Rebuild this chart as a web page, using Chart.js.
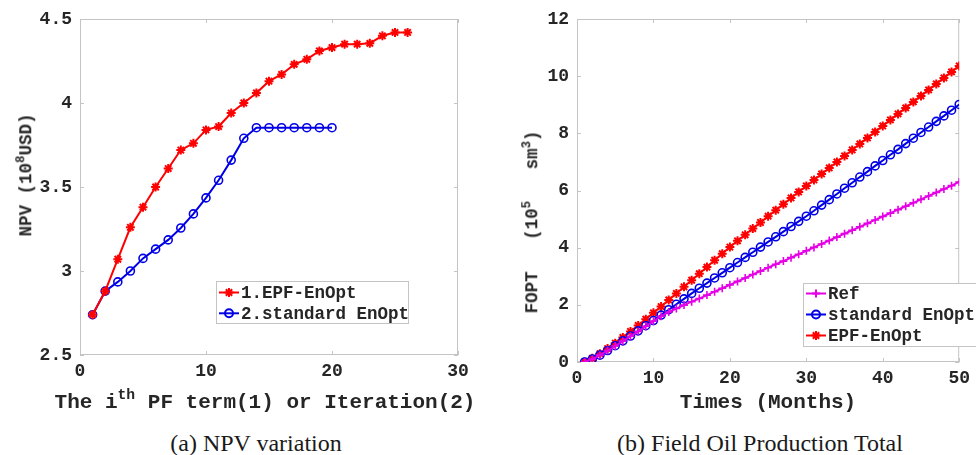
<!DOCTYPE html>
<html>
<head>
<meta charset="utf-8">
<title>NPV variation / Field Oil Production Total</title>
<script src="https://cdn.jsdelivr.net/npm/chart.js@4.4.1/dist/chart.umd.min.js"></script>
<style>
  body { margin: 0; background: #fff; }
  #wrap { position: relative; width: 976px; height: 455px; overflow: hidden; }
  canvas { position: absolute; top: 0; }
  .lbl {
    position: absolute; white-space: pre; line-height: 1;
    font-family: 'Liberation Mono', 'DejaVu Sans Mono', monospace; font-weight: bold;
    color: #262626; transform: translate(-50%, -50%);
  }
  .lbl sup { font-size: 70%; vertical-align: 0.6em; line-height: 0; }
  .rot { transform: translate(-50%, -50%) rotate(-90deg); }
  .cap {
    position: absolute; white-space: nowrap; line-height: 1;
    font-family: 'Liberation Serif', serif; font-size: 24px; color: #1a1a1a;
    transform: translate(-50%, -50%);
  }
</style>
</head>
<body>
<div id="wrap">
  <canvas id="npvChart" width="488" height="400" style="left:0"></canvas>
  <canvas id="foptChart" width="488" height="400" style="left:488px"></canvas>

  <div class="lbl rot" style="left:27px;top:175px;font-size:17.5px">NPV (10<sup>8</sup>USD)</div>
  <div class="lbl" style="left:265px;top:402px;font-size:21px">The i<sup>th</sup> PF term(1) or Iteration(2)</div>
  <div class="cap" style="left:256px;top:443px">(a) NPV variation</div>

  <div class="lbl rot" style="left:533px;top:222px;font-size:17.5px">FOPT   (10<sup>5</sup>   sm<sup>3</sup>)</div>
  <div class="lbl" style="left:768px;top:402px;font-size:21px">Times (Months)</div>
  <div class="cap" style="left:760px;top:443px">(b) Field Oil Production Total</div>
</div>

<script>
// ---- (a) NPV variation ----
const pfTerms = [1, 2, 3, 4, 5, 6, 7, 8, 9, 10, 11, 12, 13, 14, 15, 16, 17, 18, 19, 20, 21, 22, 23, 24, 25, 26];
const npvEpf = [2.74, 2.88, 3.07, 3.26, 3.38, 3.50, 3.61, 3.72, 3.76, 3.84, 3.86, 3.94, 4.00,
                4.06, 4.13, 4.17, 4.23, 4.26, 4.31, 4.33, 4.35, 4.35, 4.355, 4.40, 4.42, 4.42];
const iterations = [1, 2, 3, 4, 5, 6, 7, 8, 9, 10, 11, 12, 13, 14, 15, 16, 17, 18, 19, 20];
const npvStd = [2.74, 2.88, 2.935, 3.00, 3.075, 3.13, 3.185, 3.256, 3.34, 3.435,
                3.54, 3.66, 3.79, 3.853, 3.853, 3.853, 3.853, 3.853, 3.853, 3.853];
const npvXTicks = [0, 10, 20, 30];
const npvYTicks = [2.5, 3, 3.5, 4, 4.5];

// ---- (b) Field Oil Production Total ----
const months = [1, 2, 3, 4, 5, 6, 7, 8, 9, 10, 11, 12, 13, 14, 15, 16, 17, 18, 19, 20, 21, 22, 23, 24, 25,
                26, 27, 28, 29, 30, 31, 32, 33, 34, 35, 36, 37, 38, 39, 40, 41, 42, 43, 44, 45, 46, 47, 48, 49, 50];
const foptRef = [0.00, 0.10, 0.24, 0.40, 0.56, 0.73, 0.90, 1.07, 1.25, 1.43,
                 1.60, 1.75, 1.87, 1.99, 2.11, 2.22, 2.34, 2.46, 2.58, 2.70,
                 2.82, 2.94, 3.06, 3.18, 3.30, 3.42, 3.53, 3.65, 3.77, 3.89,
                 4.01, 4.13, 4.25, 4.37, 4.49, 4.61, 4.73, 4.85, 4.97, 5.09,
                 5.21, 5.33, 5.45, 5.57, 5.69, 5.81, 5.93, 6.05, 6.17, 6.30];
const foptStd = [0.00, 0.10, 0.24, 0.40, 0.57, 0.74, 0.91, 1.09, 1.27, 1.45,
                 1.64, 1.83, 2.02, 2.21, 2.40, 2.58, 2.76, 2.94, 3.12, 3.30,
                 3.48, 3.66, 3.84, 4.02, 4.20, 4.38, 4.56, 4.74, 4.92, 5.10,
                 5.29, 5.49, 5.68, 5.88, 6.08, 6.27, 6.47, 6.66, 6.86, 7.05,
                 7.25, 7.44, 7.64, 7.83, 8.03, 8.22, 8.42, 8.61, 8.81, 9.01];
const foptEpf = [0.00, 0.13, 0.29, 0.47, 0.66, 0.86, 1.07, 1.28, 1.50, 1.72,
                 1.94, 2.17, 2.40, 2.63, 2.86, 3.09, 3.32, 3.56, 3.79, 4.02,
                 4.24, 4.45, 4.67, 4.88, 5.10, 5.31, 5.52, 5.74, 5.95, 6.16,
                 6.37, 6.58, 6.79, 7.00, 7.21, 7.42, 7.63, 7.84, 8.05, 8.26,
                 8.47, 8.68, 8.89, 9.10, 9.31, 9.52, 9.73, 9.94, 10.15, 10.36];
const monthTicks = [0, 10, 20, 30, 40, 50];
const foptTicks = [0, 2, 4, 6, 8, 10, 12];

const RED = '#ff0000';
const BLUE = '#0000e6';
const MAGENTA = '#e600e6';
const tickFont = { family: "'Liberation Mono', monospace", size: 18, weight: 'bold' };

// pair x values with y values for a linear x axis
function xy(xs, ys) {
    return ys.map((y, i) => ({ x: xs[i], y: y }));
}

// MATLAB-like box round the plot with short ticks pointing inwards
const matlabFrame = {
    id: 'matlabFrame',
    beforeDatasetsDraw(chart) {
        const { ctx, chartArea: a, scales } = chart;
        const len = 4;
        ctx.save();
        ctx.strokeStyle = '#c4c4c4';
        ctx.lineWidth = 1;
        ctx.strokeRect(a.left + 0.5, a.top + 0.5, a.right - a.left - 1, a.bottom - a.top - 1);
        ctx.beginPath();
        scales.x.ticks.forEach(t => {
            const px = Math.round(scales.x.getPixelForValue(t.value)) + 0.5;
            ctx.moveTo(px, a.bottom); ctx.lineTo(px, a.bottom - len);
            ctx.moveTo(px, a.top); ctx.lineTo(px, a.top + len);
        });
        scales.y.ticks.forEach(t => {
            const py = Math.round(scales.y.getPixelForValue(t.value)) + 0.5;
            ctx.moveTo(a.left, py); ctx.lineTo(a.left + len, py);
            ctx.moveTo(a.right, py); ctx.lineTo(a.right - len, py);
        });
        ctx.stroke();
        ctx.restore();
    }
};

// boxed legend drawn inside the axes, like MATLAB's
const boxLegend = {
    id: 'boxLegend',
    afterDraw(chart, args, opts) {
        const ctx = chart.ctx;
        ctx.save();
        ctx.fillStyle = '#fff';
        ctx.strokeStyle = '#c4c4c4';
        ctx.lineWidth = 1;
        ctx.fillRect(opts.x, opts.y, opts.w, opts.h);
        ctx.strokeRect(opts.x + 0.5, opts.y + 0.5, opts.w - 1, opts.h - 1);
        ctx.font = "bold 17.5px 'Liberation Mono', monospace";
        ctx.textBaseline = 'middle';
        chart.data.datasets.forEach((ds, i) => {
            const cy = opts.firstRow + i * opts.rowH;
            const lx = opts.x + 3;
            ctx.strokeStyle = ds.borderColor;
            ctx.lineWidth = ds.borderWidth;
            ctx.beginPath();
            ctx.moveTo(lx, cy); ctx.lineTo(lx + 20, cy);
            ctx.stroke();
            // circles stay hollow, like the plotted markers
            ctx.fillStyle = ds.backgroundColor;
            ctx.strokeStyle = ds.borderColor;
            Chart.helpers.drawPoint(ctx, {
                pointStyle: ds.pointStyle, radius: ds.pointRadius,
                rotation: 0, borderWidth: ds.pointBorderWidth
            }, lx + 10, cy);
            ctx.fillStyle = '#262626';
            ctx.fillText(ds.label, lx + 22, cy + 1);
        });
        ctx.restore();
    }
};

function axisOptions(min, max, ticks, fitSize, horizontal) {
    return {
        type: 'linear',
        min: min,
        max: max,
        border: { display: false },
        grid: { display: false, drawTicks: false },
        afterBuildTicks: scale => { scale.ticks = ticks.map(v => ({ value: v })); },
        afterFit: scale => {
            if (horizontal) scale.height = fitSize; else scale.width = fitSize;
        },
        ticks: {
            padding: horizontal ? 6 : 8,
            color: '#262626',
            font: tickFont,
            maxRotation: 0,
            autoSkip: false,
            callback: v => String(v)
        }
    };
}

const npvConfig = {
    type: 'line',
    data: {
        datasets: [
            {
                label: '1.EPF-EnOpt',
                data: xy(pfTerms, npvEpf),
                borderColor: RED,
                backgroundColor: RED,
                borderWidth: 2,
                pointStyle: 'star',
                pointRadius: 4.5,
                pointBorderWidth: 2,
                tension: 0
            },
            {
                label: '2.standard EnOpt',
                data: xy(iterations, npvStd),
                borderColor: BLUE,
                backgroundColor: 'rgba(0,0,0,0)',
                borderWidth: 2,
                pointStyle: 'circle',
                pointRadius: 4,
                pointBorderWidth: 1.6,
                tension: 0
            }
        ]
    },
    options: {
        responsive: false,
        animation: false,
        devicePixelRatio: 1,
        layout: { padding: { top: 19, right: 30, left: 0, bottom: 0 } },
        scales: {
            x: axisOptions(0, 30, npvXTicks, 45, true),
            y: axisOptions(2.5, 4.5, npvYTicks, 80, false)
        },
        plugins: {
            legend: { display: false },
            tooltip: { enabled: false },
            boxLegend: { x: 216, y: 281, w: 193, h: 43, firstRow: 292.5, rowH: 20.8 }
        }
    },
    plugins: [matlabFrame, boxLegend]
};

const foptConfig = {
    type: 'line',
    data: {
        datasets: [
            {
                label: 'Ref',
                data: xy(months, foptRef),
                borderColor: MAGENTA,
                backgroundColor: MAGENTA,
                borderWidth: 2,
                pointStyle: 'cross',
                pointRadius: 4,
                pointBorderWidth: 1.6,
                tension: 0
            },
            {
                label: 'standard EnOpt',
                data: xy(months, foptStd),
                borderColor: BLUE,
                backgroundColor: 'rgba(0,0,0,0)',
                borderWidth: 2,
                pointStyle: 'circle',
                pointRadius: 4,
                pointBorderWidth: 1.6,
                tension: 0
            },
            {
                label: 'EPF-EnOpt',
                data: xy(months, foptEpf),
                borderColor: RED,
                backgroundColor: RED,
                borderWidth: 2,
                pointStyle: 'star',
                pointRadius: 4.5,
                pointBorderWidth: 2,
                tension: 0
            }
        ]
    },
    options: {
        responsive: false,
        animation: false,
        devicePixelRatio: 1,
        layout: { padding: { top: 19, right: 13, left: 0, bottom: 0 } },
        scales: {
            x: axisOptions(0, 50, monthTicks, 38, true),
            y: axisOptions(0, 12, foptTicks, 89, false)
        },
        plugins: {
            legend: { display: false },
            tooltip: { enabled: false },
            boxLegend: { x: 315, y: 283, w: 175, h: 64, firstRow: 293.5, rowH: 21 }
        }
    },
    plugins: [matlabFrame, boxLegend]
};

const npvChart = new Chart(document.getElementById('npvChart'), npvConfig);
const foptChart = new Chart(document.getElementById('foptChart'), foptConfig);
</script>
</body>
</html>
